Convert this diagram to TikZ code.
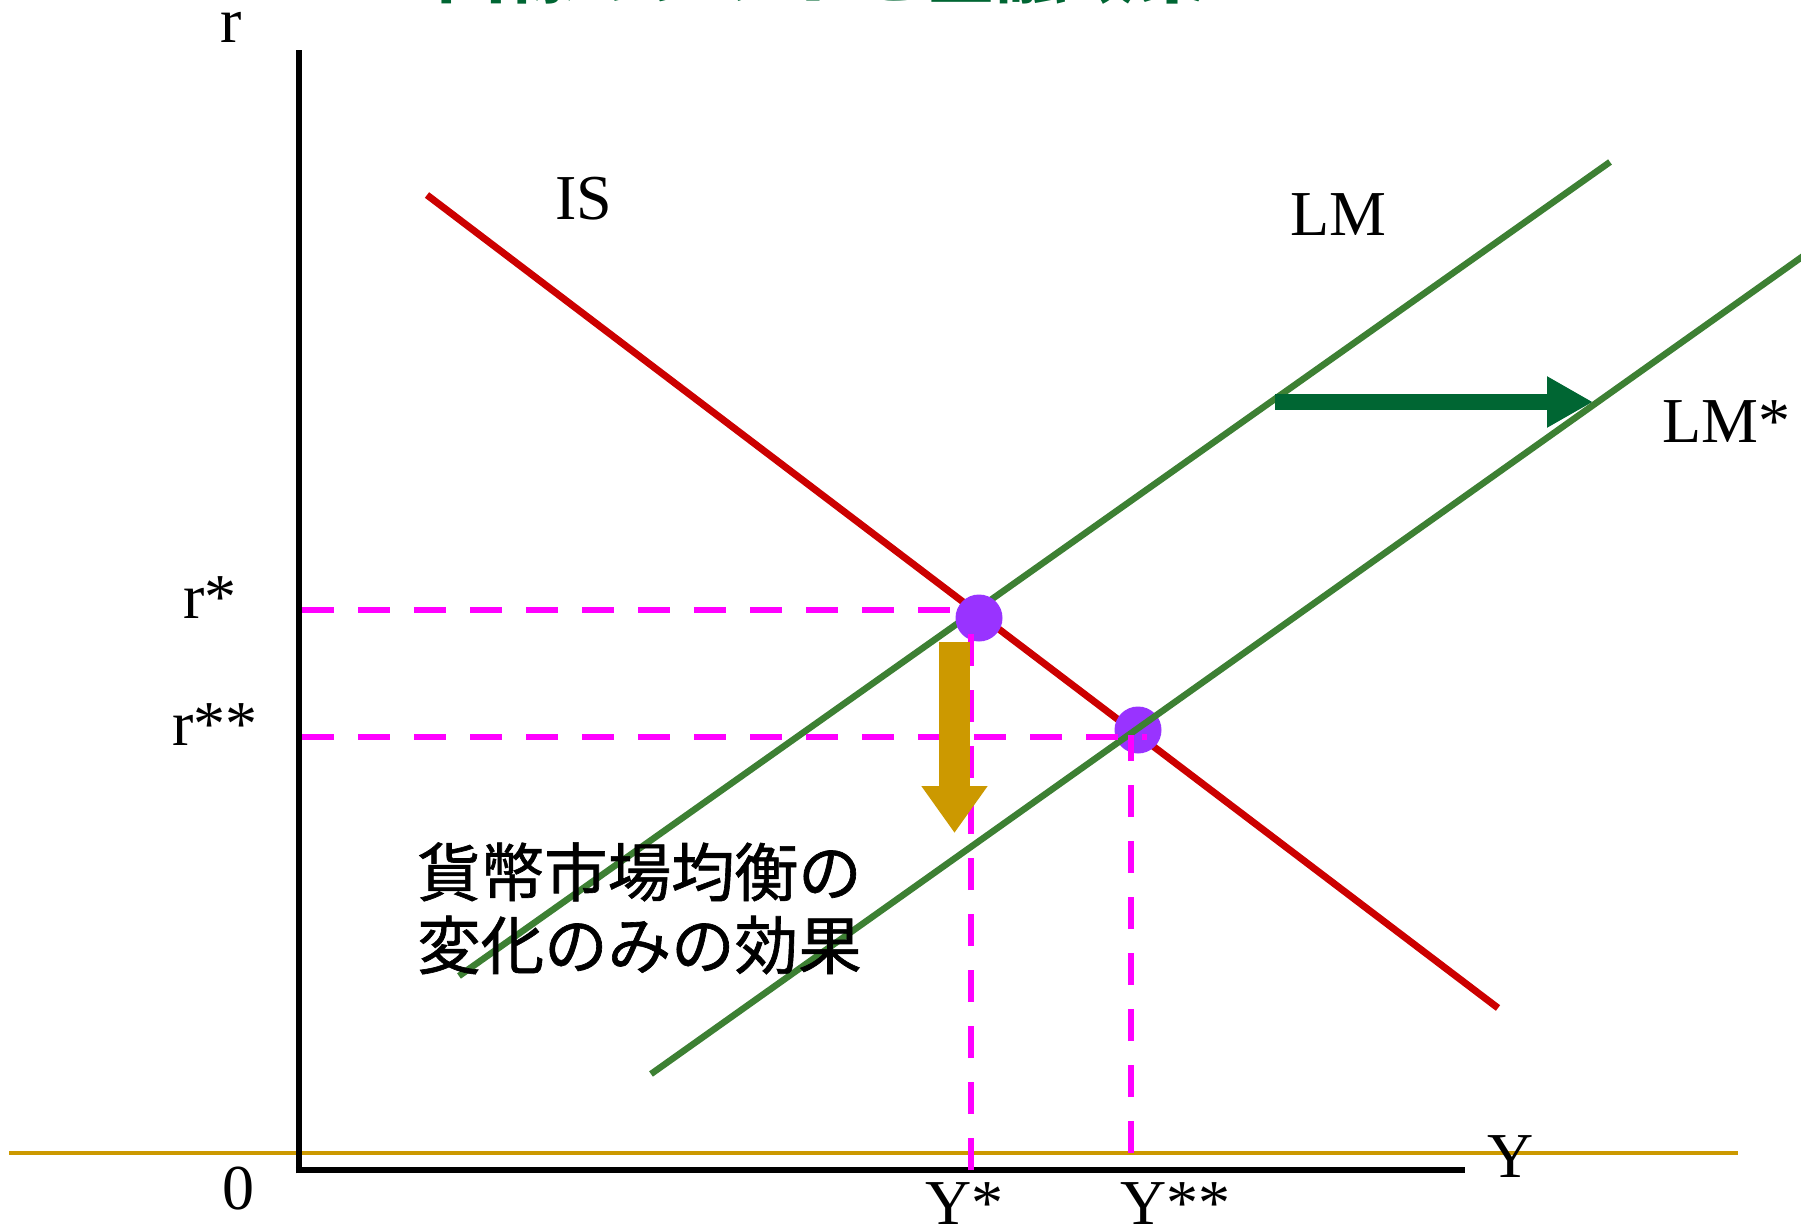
\documentclass[tikz,border=0pt]{standalone}
\usepackage{fontspec}
\setmainfont{Liberation Serif}
\newfontfamily\jpfont{Noto Sans CJK JP}
\newfontfamily\jpfontheavy[FakeBold=1]{Noto Sans CJK JP}
\usetikzlibrary{arrows.meta}
\definecolor{isred}{RGB}{204,0,0}
\definecolor{lmgreen}{RGB}{61,128,51}
\definecolor{darkgreen}{RGB}{0,102,51}
\definecolor{goldc}{RGB}{204,153,0}
\definecolor{magc}{RGB}{255,0,255}
\definecolor{ptc}{RGB}{153,51,255}
\begin{document}
\begin{tikzpicture}[x=1pt,y=-1pt,
  lbl/.style={anchor=base west,inner sep=0pt,font=\fontsize{64}{70}\selectfont},
  jp/.style={anchor=base west,inner sep=0pt,font=\jpfontheavy\fontsize{63.5}{77}\selectfont},
  isline/.style={draw=isred,line width=7pt},
  lmline/.style={draw=lmgreen,line width=6.5pt},
  axisline/.style={draw=black,line width=6.5pt},
  guide/.style={draw=magc,line width=6.5pt,dash pattern=on 32pt off 24pt},
  eqpt/.style={circle,fill=ptc,minimum size=47pt,inner sep=0pt},
  shiftarrow/.style={line width=16pt,draw=darkgreen,-{Triangle[length=46pt,width=48pt]}},
  droparrow/.style={line width=31pt,draw=goldc,-{Triangle[length=47pt,width=63pt]}}
]
\useasboundingbox (0,0) rectangle (1801,1226);
\clip (0,0) rectangle (1801,1226);
\fill[white] (0,0) rectangle (1801,1226);

% title (cut off at the top)
\node[anchor=base west,inner sep=0pt,text=darkgreen,font=\jpfont\bfseries\fontsize{70}{80}\selectfont] (title) at (34,-2) {\makebox[299pt][l]{6.4}LM曲線のシフトと金融政策};

% base line
\coordinate (tl) at (9,1153);
\coordinate (tr) at (1738,1153);
\draw[goldc,line width=4pt] (tl) -- (tr);

% axes
\coordinate (origin) at (299,1170);
\coordinate (ytop) at (299,50);
\coordinate (xend) at (1465,1170);
\draw[axisline] (299,1173.25) -- (ytop);
\draw[axisline] (295.75,1170) -- (xend);

% curves
\coordinate (is1) at (427,195);
\coordinate (is2) at (1498,1008);
\draw[isline] (is1) -- (is2);
\coordinate (lm1) at (459,976);
\coordinate (lm2) at (1610,162);
\draw[lmline] (lm1) -- (lm2);

% equilibria
\node[eqpt] (E1) at (979,618) {};
\node[eqpt] (E2) at (1138,730) {};

% shift arrow
\coordinate (gs) at (1275,402);
\coordinate (ge) at (1593,402);
\draw[shiftarrow] (gs) -- (ge);

\coordinate (lms1) at (651,1074);
\coordinate (lms2) at (1830,237);
\draw[lmline] (lms1) -- (lms2);

% guides
\coordinate (rs) at (302,610);
\coordinate (rse) at (960,610);
\coordinate (rss) at (302,737);
\coordinate (rsse) at (1147,737);
\coordinate (ysb) at (971,1170);
\coordinate (yst) at (971,618);
\coordinate (yssb) at (1131,1153);
\coordinate (ysst) at (1131,735);
\draw[guide] (rs) -- (rse);
\draw[guide] (rss) -- (rsse);
\draw[guide] (ysb) -- (yst);
\draw[guide] (yssb) -- (ysst);

% drop arrow
\coordinate (ds) at (954.5,642);
\coordinate (de) at (954.5,833);
\draw[droparrow] (ds) -- (de);

% labels
\node[lbl] (lr) at (220,42) {r};
\node[lbl] (lIS) at (555,219) {IS};
\node[lbl] (lLM) at (1290,235) {LM};
\node[lbl] (lLMs) at (1662,442) {LM*};
\node[lbl] (lrs) at (183,618) {r*};
\node[lbl] (lrss) at (172,745) {r**};
\node[lbl] (l0) at (222,1209) {0};
\node[lbl] (lYs) at (925,1224) {Y*};
\node[lbl] (lYss) at (1120,1224) {Y**};
\node[lbl] (lY) at (1487,1177) {Y};

\node[jp] (jp1) at (417,896) {貨幣市場均衡の};
\node[jp] (jp2) at (417,969) {変化のみの効果};
\end{tikzpicture}
\end{document}
